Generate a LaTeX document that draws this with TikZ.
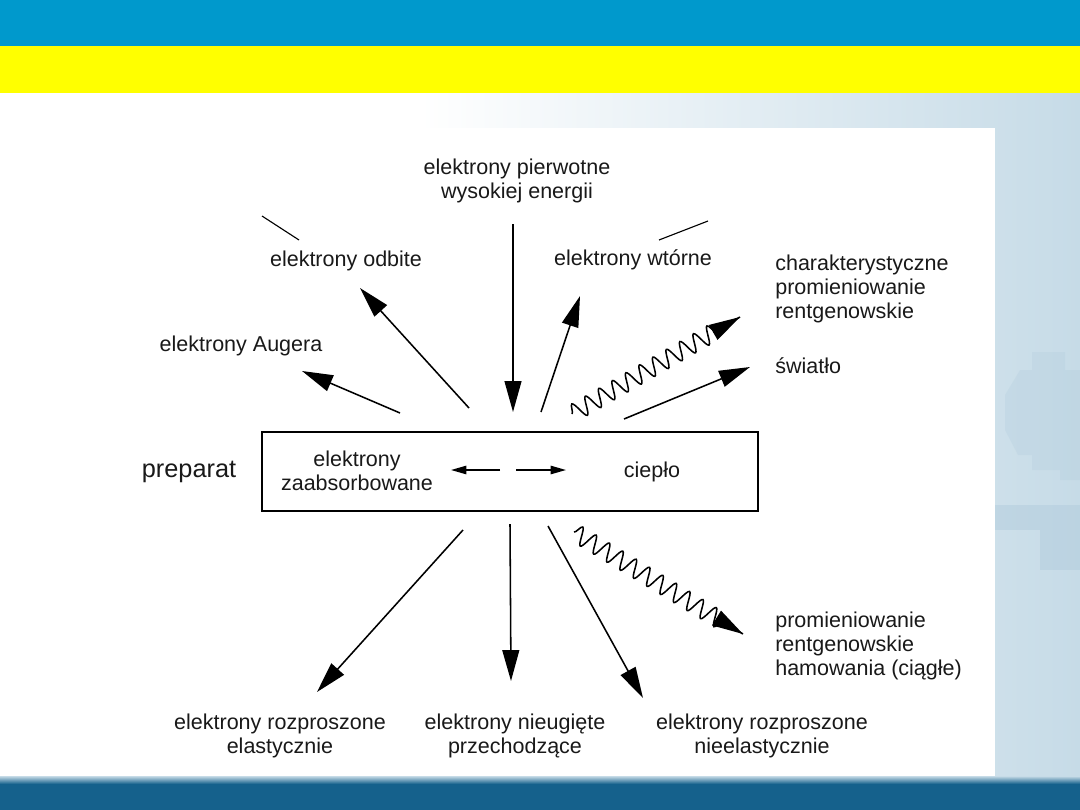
\documentclass[tikz,border=0pt]{standalone}
\usepackage{fontspec}
\setmainfont{Liberation Sans}
\usetikzlibrary{arrows.meta,decorations.pathmorphing,calc}
\definecolor{topblue}{HTML}{0099CC}
\definecolor{bandyellow}{RGB}{255,255,0}
\definecolor{botblue}{HTML}{15618C}
\definecolor{bgblue}{HTML}{C6DBE7}
\definecolor{gearc}{HTML}{AFCADB}
\tikzset{
  lbl/.style={font=\fontsize{15.3}{17.2}\selectfont, align=center, inner sep=0pt, text=black!90},
  arr/.style={line width=1.1pt, -{Triangle[length=22pt,width=12pt]}},
  small arr/.style={line width=1.1pt, -{Triangle[length=11pt,width=6pt]}},
  wavy/.style={line width=1.1pt, decorate, decoration={snake, segment length=0.39cm, amplitude=0.22cm, post length=0.55cm}},
}
\begin{document}
\begin{tikzpicture}[x=0.025cm,y=-0.025cm]
\useasboundingbox (0,0) rectangle (1080,810);
% background
\fill[white] (0,93) rectangle (1080,778);
\shade[left color=white, right color=bgblue] (420,93) rectangle (1080,778);
% faint gear
\fill[gearc, opacity=0.25] (1005,395) -- (1020,370) -- (1032,370) -- (1032,352) -- (1065,352) -- (1065,370) -- (1080,370) -- (1080,480) -- (1060,480) -- (1060,470) -- (1032,470) -- (1032,455) -- (1018,455) -- (1005,430) -- cycle;
\fill[gearc, opacity=0.45] (995,505) rectangle (1080,530);
\fill[gearc, opacity=0.45] (1040,530) rectangle (1080,570);
% panel
\fill[white] (100,128) rectangle (995,776);
% bands
\fill[topblue] (0,0) rectangle (1080,46);
\fill[bandyellow] (0,46) rectangle (1080,93);
\shade[top color=bgblue, bottom color=botblue] (0,776) rectangle (1080,784);
\fill[botblue] (0,784) rectangle (1080,810);

% labels
\node[lbl] (prim) at (517,181) {elektrony pierwotne\\wysokiej energii};
\node[lbl] (odb) at (346,261) {elektrony odbite};
\node[lbl] (wt) at (633,260) {elektrony wtórne};
\node[lbl, anchor=west, align=left] (char) at (775,289) {charakterystyczne\\promieniowanie\\rentgenowskie};
\node[lbl, anchor=west] (sw) at (775,366) {światło};
\node[lbl] (aug) at (241,346) {elektrony Augera};
\node[lbl, font=\fontsize{18}{20}\selectfont] (prep) at (189,472) {preparat};
\node[draw, line width=1.5pt, minimum width=12.4cm, minimum height=1.975cm, inner sep=0pt] (box) at (510,471.5) {};
\node[lbl] (abs) at (357,471) {elektrony\\zaabsorbowane};
\node[lbl] (heat) at (652,472) {ciepło};
\node[lbl, anchor=west, align=left] (brem) at (775,646) {promieniowanie\\rentgenowskie\\hamowania (ciągłe)};
\node[lbl] (el) at (280,736) {elektrony rozproszone\\elastycznie};
\node[lbl] (nu) at (515,736) {elektrony nieugięte\\przechodzące};
\node[lbl] (nel) at (762,736) {elektrony rozproszone\\nieelastycznie};

% coordinates
\coordinate (p1) at (513,224);
\coordinate (p2) at (513,412);
\coordinate (o1) at (469,408);
\coordinate (o2) at (360,288);
\coordinate (a1) at (400,413);
\coordinate (a2) at (302,371);
\coordinate (w1) at (541,412);
\coordinate (w2) at (580,296);
\coordinate (c1) at (572,414);
\coordinate (c2) at (740,317);
\coordinate (s1) at (624,419);
\coordinate (s2) at (750,367);
\coordinate (b1) at (463,530);
\coordinate (b2) at (317,692);
\coordinate (n1) at (510,524);
\coordinate (n2) at (511,681);
\coordinate (e1) at (548,526);
\coordinate (e2) at (643,698);
\coordinate (h1) at (574,532);
\coordinate (h2) at (743,634);
\coordinate (t1) at (262,216);
\coordinate (t2) at (299,240);
\coordinate (u1) at (659,240);
\coordinate (u2) at (708,221);
\coordinate (i1) at (500,470);
\coordinate (i2) at (451,470);
\coordinate (j1) at (516,470);
\coordinate (j2) at (566,470);

% connectors
\draw[arr] (p1) -- (p2);
\draw[arr] (o1) -- (o2);
\draw[arr] (a1) -- (a2);
\draw[arr] (w1) -- (w2);
\draw[arr] (s1) -- (s2);
\draw[arr] (b1) -- (b2);
\draw[arr] (n1) -- (n2);
\draw[arr] (e1) -- (e2);
\draw[wavy] (c1) -- (c2);
\draw[wavy] (h1) -- (h2);
\draw[arr] ($(c1)!0.86!(c2)$) -- (c2);
\draw[arr] ($(h1)!0.86!(h2)$) -- (h2);
\draw[line width=0.8pt] (t1) -- (t2);
\draw[line width=0.8pt] (u1) -- (u2);
\draw[small arr] (i1) -- (i2);
\draw[small arr] (j1) -- (j2);
\end{tikzpicture}
\end{document}
